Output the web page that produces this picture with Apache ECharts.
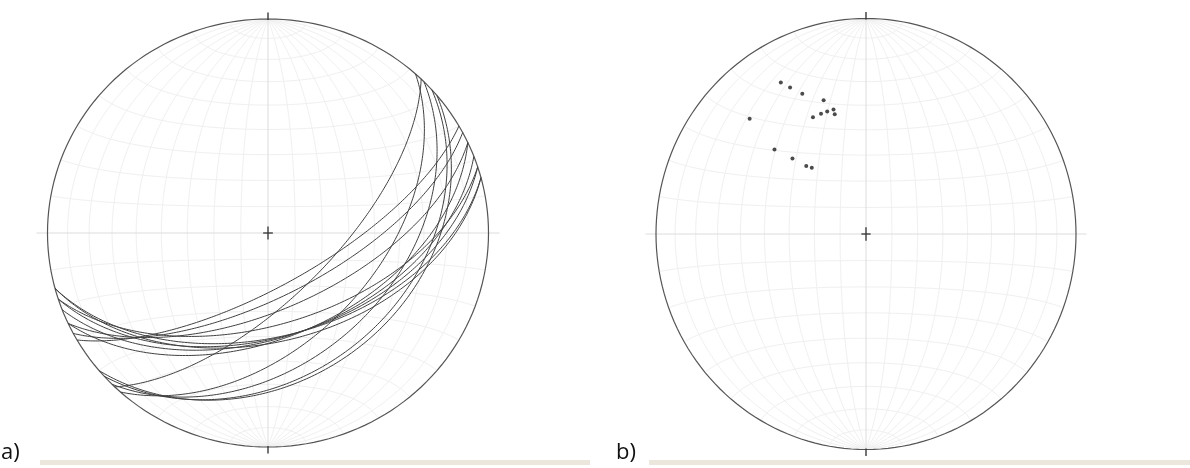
<!DOCTYPE html>
<html><head><meta charset="utf-8">
<script src="https://cdn.jsdelivr.net/npm/echarts@6/dist/echarts.min.js"></script>
<style>html,body{margin:0;padding:0;background:#fff}#c{width:1190px;height:468px}</style>
</head><body><div id="c"></div>
<script>
// Plane orientations (dip direction / dip, degrees)
const dipDirection = [150, 152, 155, 162, 165, 165, 162, 159, 155, 134, 132, 135, 138, 140];
const dip          = [ 70,  66,  61,  55,  50,  48,  50,  50,  50,  66,  49,  41,  35,  33];
const panelLabels = ['a)', 'b)'];
const netStep = 10; // net spacing in degrees

const rad = d => d * Math.PI / 180;
// Lower-hemisphere equal-area projection of a unit vector (east, north, down)
function proj(e, n, d) {
  if (d < 0) { e = -e; n = -n; d = -d; }
  const k = 1 / Math.sqrt(1 + d);
  return [e * k, n * k];
}
function greatCircle(dd, dp, steps) {
  steps = steps || 180;
  const s = dd - 90;
  const sv = [Math.sin(rad(s)), Math.cos(rad(s)), 0];
  const dv = [Math.cos(rad(dp)) * Math.sin(rad(dd)), Math.cos(rad(dp)) * Math.cos(rad(dd)), Math.sin(rad(dp))];
  const pts = [];
  for (let i = 0; i <= steps; i++) {
    const b = rad(i * 180 / steps), c = Math.cos(b), si = Math.sin(b);
    pts.push(proj(c * sv[0] + si * dv[0], c * sv[1] + si * dv[1], c * sv[2] + si * dv[2]));
  }
  return pts;
}
// great circle limited to latitudes within +-limit of the equator (net meridians)
function meridian(dd, dp, limit) {
  return greatCircle(dd, dp, 180).filter(p => true);
}
function smallCircle(alpha, north, steps) {
  steps = steps || 90;
  const sgn = north ? 1 : -1, pts = [];
  for (let i = 0; i <= steps; i++) {
    const f = rad(i * 180 / steps);
    pts.push(proj(Math.sin(rad(alpha)) * Math.cos(f), sgn * Math.cos(rad(alpha)), Math.sin(rad(alpha)) * Math.sin(f)));
  }
  return pts;
}
function pole(dd, dp) {
  const t = rad(dd + 180);
  return proj(Math.sin(rad(dp)) * Math.sin(t), Math.sin(rad(dp)) * Math.cos(t), Math.cos(rad(dp)));
}

// net lines
const netLines = [];
for (let a = netStep; a < 90; a += netStep) {
  netLines.push({coords: meridian(90, a)});
  netLines.push({coords: meridian(270, a)});
  netLines.push({coords: smallCircle(a, true)});
  netLines.push({coords: smallCircle(a, false)});
}
const primitive = [];
for (let i = 0; i <= 360; i += 2) primitive.push([Math.sin(rad(i)), Math.cos(rad(i))]);
const EXT = 1.05, CR = 0.022, TK = 0.03;
const axesLines = [
  {coords: [[-EXT, 0], [EXT, 0]]},
  {coords: [[0, -1 - TK], [0, 1 + TK]]}
];
const marks = [
  {coords: [[-CR, 0], [CR, 0]]}, {coords: [[0, -CR * 1.4], [0, CR * 1.4]]},
  {coords: [[0, 1 - 0.005], [0, 1 + TK]]}, {coords: [[0, -1 + 0.005], [0, -1 - TK]]}
];

const grids = [
  {left: 47.5, top: 19, width: 441, height: 428},
  {left: 656, top: 18.5, width: 420, height: 431}
];
const series = [];
grids.forEach((g, gi) => {
  const base = {type: 'lines', coordinateSystem: 'cartesian2d', polyline: true, xAxisIndex: gi, yAxisIndex: gi,
                silent: true, clip: false, animation: false, z: 2};
  series.push(Object.assign({}, base, {data: netLines, lineStyle: {color: '#f0f0f0', width: 1, opacity: 1}}));
  series.push(Object.assign({}, base, {data: axesLines, lineStyle: {color: '#dcdcdc', width: 1, opacity: 1}}));
  series.push(Object.assign({}, base, {data: [{coords: primitive}], lineStyle: {color: '#555555', width: 1.2, opacity: 1}, z: 4}));
  series.push(Object.assign({}, base, {data: marks, lineStyle: {color: '#333', width: 1.3, opacity: 1}, z: 4}));
});
// a) great circles
series.push({type: 'lines', coordinateSystem: 'cartesian2d', polyline: true, xAxisIndex: 0, yAxisIndex: 0,
  silent: true, clip: false, animation: false, z: 5,
  lineStyle: {color: '#404040', width: 1, opacity: 1},
  data: dipDirection.map((dd, i) => ({coords: greatCircle(dd, dip[i])}))});
// b) poles
series.push({type: 'scatter', xAxisIndex: 1, yAxisIndex: 1, silent: true, animation: false, z: 6,
  symbol: 'circle', symbolSize: 4, itemStyle: {color: '#1e1e1e'},
  data: dipDirection.map((dd, i) => pole(dd, dip[i]))});

const chart = echarts.init(document.getElementById('c'), null, {renderer: 'canvas'});
const axisX = gi => ({type: 'value', gridIndex: gi, min: -1, max: 1, show: false});
chart.setOption({
  animation: false,
  backgroundColor: '#ffffff',
  grid: grids,
  xAxis: [axisX(0), axisX(1)],
  yAxis: [axisX(0), axisX(1)],
  series: series,
  graphic: [
    {type: 'rect', shape: {x: 40, y: 460, width: 550, height: 5}, style: {fill: '#ece7dc'}},
    {type: 'rect', shape: {x: 649, y: 460, width: 541, height: 5}, style: {fill: '#ece7dc'}},
    {type: 'text', left: 1, top: 442, style: {text: panelLabels[0], fontSize: 22, fontFamily: 'Open Sans', fill: '#111'}},
    {type: 'text', left: 616, top: 442, style: {text: panelLabels[1], fontSize: 22, fontFamily: 'Open Sans', fill: '#111'}}
  ]
});
</script></body></html>
